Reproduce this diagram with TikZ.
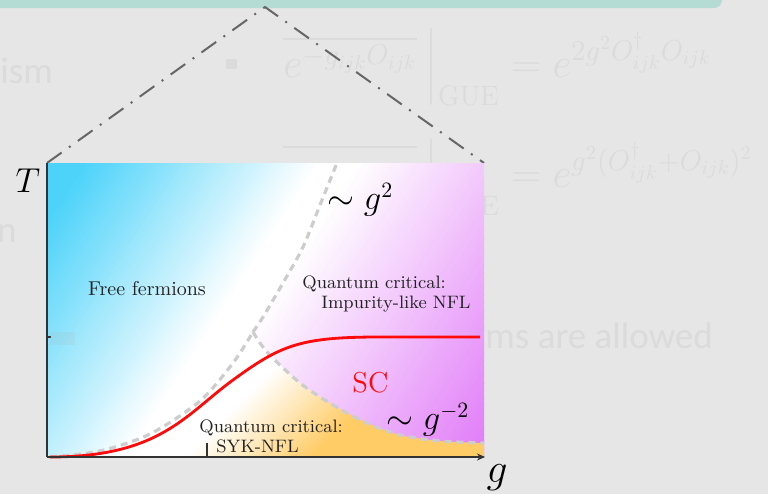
\documentclass[tikz,border=0pt]{standalone}
\usepackage{amsmath}
\usepackage{fontspec}
\newfontfamily\slidefont{Carlito}
\usetikzlibrary{arrows.meta, positioning}
\definecolor{slidebg}{HTML}{E6E6E6}
\definecolor{slidebar}{HTML}{B4DCD5}
\definecolor{slidetext}{HTML}{DBDBDB}
\definecolor{zoomline}{HTML}{666666}
\definecolor{freecol}{HTML}{4DD3FA}
\definecolor{nflcol}{HTML}{E17BF8}
\definecolor{sykcol}{HTML}{FFCC66}
\definecolor{dashgray}{HTML}{CDCDCD}
\definecolor{sccol}{HTML}{FF0A0A}
\definecolor{labeltext}{HTML}{222222}
\begin{document}
\begin{tikzpicture}[x=0.5pt, y=-0.5pt,
    faint/.style={text=slidetext, font=\slidefont\fontsize{18.5}{22}\selectfont, inner sep=0pt},
    faintmath/.style={text=slidetext, font=\fontsize{20}{24}\selectfont, inner sep=0pt},
    phase/.style={text=labeltext, font=\normalsize, inner sep=0pt},
    regime/.style={text=labeltext, font=\small, inner sep=0pt, anchor=base west},
    scaling/.style={text=black, font=\fontsize{16}{19}\selectfont, inner sep=0pt, anchor=west},
    crossover/.style={draw=dashgray, line width=1.6pt, dash pattern=on 3.5pt off 2.5pt},
    axisline/.style={draw=black!80, line width=0.8pt}]
  \useasboundingbox (0,0) rectangle (768,494);
  % slide behind the picture
  \fill[slidebg] (0,0) rectangle (768,494);
  \fill[slidebar, rounded corners=4pt] (-20,-20) rectangle (722,8);
  \node[faint, anchor=base west] (ism) at (0,83) {ism};
  \node[faint, anchor=base east] (nfrag) at (17,242) {n};
  \node[faint, anchor=base west] (allowed) at (485,348) {ms are allowed};
  \fill[slidetext] (226,59) rectangle (237,69);
  \node[faintmath, anchor=west] (gueone) at (283,68) {$\overline{e^{-g_{ijk}O_{ijk}}}\,\Bigr|_{\mathrm{GUE}} = e^{2g^2O^{\dagger}_{ijk}O_{ijk}}$};
  \node[faintmath, anchor=west] (guetwo) at (283,178) {$\overline{\phantom{e^{-g_{ijk}O_{ijk}}}}\,\Bigr|_{\mathrm{GUE}} = e^{g^2(O^{\dagger}_{ijk}+O_{ijk})^2}$};
  % zoom lines
  \coordinate (apex) at (265,7);
  \coordinate (ptl) at (47,163);
  \coordinate (ptr) at (484,163);
  \draw[zoomline, line width=1pt, dash pattern=on 9pt off 4.5pt on 1pt off 4.5pt] (ptl) -- (apex) -- (ptr);
  % phase diagram background, in strips across the diagonal
  \begin{scope}
    \clip (47,163) rectangle (484,457);
    \begin{scope}[shift={(240,310)}, rotate=-33]
      \foreach \d in {-256,-252,...,292} {
        \pgfmathtruncatemacro\cp{max(0,min(100,(-15-\d)/1.95))}
        \pgfmathtruncatemacro\pp{max(0,min(100,(\d-15)/2.65))}
        \colorlet{stripmix}{nflcol!\pp!white}
        \fill[freecol!\cp!stripmix] (\d,-420) rectangle ({\d+4.8},420);
      }
    \end{scope}
  \end{scope}
  \begin{scope}
    \clip (140,300) rectangle (484,457);
    \clip plot[smooth] coordinates {(50,457) (100,451) (150,434) (200,401) (233,363) (253,332)}
      -- plot[smooth] coordinates {(253,332) (267,352) (300,383) (333,405) (367,423) (400,435) (440,441) (484,443)}
      -- (484,457) -- (47,457) -- cycle;
    \begin{scope}[shift={(290,420)}, rotate=-45]
      \fill[white] (-260,-300) rectangle (-59,300);
      \foreach \d in {-60,-56,...,56} {
        \pgfmathtruncatemacro\op{max(0,min(100,(\d+50)/0.9))}
        \fill[sykcol!\op!white] (\d,-300) rectangle ({\d+4.8},300);
      }
      \fill[sykcol] (60,-300) rectangle (260,300);
    \end{scope}
  \end{scope}
  \draw[crossover] plot[smooth] coordinates {(50,457) (100,451) (150,434) (200,401) (233,363) (253,332)};
  \draw[crossover] plot[smooth] coordinates {(253,332) (263,317) (283,283) (303,247) (322,200) (337,163)};
  \draw[crossover] plot[smooth] coordinates {(253,332) (267,352) (300,383) (333,405) (367,423) (400,435) (440,441) (484,443)};
  \draw[sccol, line width=1.4pt] (50,457) .. controls (160,457) and (185,415) .. (233,380)
    .. controls (281,345) and (300,337) .. (380,337) -- (480,337);
  % axes
  \draw[axisline] (47,457) -- (ptl);
  \draw[axisline, -{Stealth[length=4pt, width=3.5pt]}] (47,457) -- (485,457);
  \draw[axisline] (47,337) -- (51,337);
  \draw[axisline] (207,443) -- (207,457);
  \node[text=black, font=\LARGE, inner sep=0pt] (tlabel) at (28,181) {$T$};
  \node[text=black, font=\huge, inner sep=0pt] (glabel) at (497,478) {$g$};
  % labels
  \node[phase] (free) at (147,289) {Free fermions};
  \node[regime] (impone) at (302,288) {Quantum critical:};
  \node[regime] (imptwo) at (321,308) {Impurity-like NFL};
  \node[regime] (sykone) at (199,432) {Quantum critical:};
  \node[regime] (sykltwo) at (216,452) {SYK-NFL};
  \node[text=sccol, font=\Large, inner sep=0pt, anchor=base west] (sc) at (352,392) {SC};
  \node[scaling] (gsq) at (327,200) {$\sim g^2$};
  \node[scaling] (ginv) at (386,420) {$\sim g^{-2}$};
  \fill[gray!60, opacity=0.15] (50,332) rectangle (75,345);
\end{tikzpicture}
\end{document}
